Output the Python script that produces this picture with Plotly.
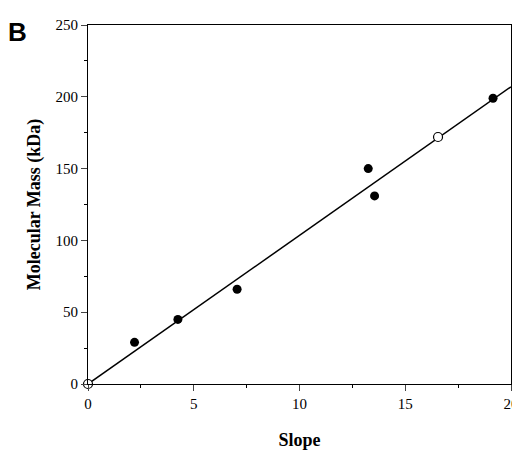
import plotly.graph_objects as go

filled_x = [2.2, 4.25, 7.05, 13.25, 13.55, 19.15]
filled_y = [29, 45, 66, 150, 131, 199]
open_x = [0, 16.55]
open_y = [0, 172]
line_x = [0, 20]
line_y = [0, 207]

fig = go.Figure()
fig.add_trace(go.Scatter(x=line_x, y=line_y, mode="lines", line=dict(color="black", width=1.5), cliponaxis=False))
fig.add_trace(go.Scatter(x=filled_x, y=filled_y, mode="markers", marker=dict(color="black", size=9), cliponaxis=False))
fig.add_trace(go.Scatter(x=open_x, y=open_y, mode="markers",
                         marker=dict(color="white", size=9, line=dict(color="black", width=1.2)), cliponaxis=False))

font = dict(family="Liberation Serif", color="black", size=15)
fig.update_layout(
    width=520, height=450, showlegend=False, plot_bgcolor="white", paper_bgcolor="white",
    margin=dict(l=80, r=17, t=9, b=74), font=font,
    xaxis=dict(range=[0, 20], tickvals=[0, 5, 10, 15, 20], ticks="outside", ticklen=6, tickwidth=1,
               showline=True, linecolor="black", linewidth=1, mirror=True, showgrid=False, zeroline=False,
               minor=dict(tickvals=[2.5, 7.5, 12.5, 17.5], ticks="outside", ticklen=3, tickcolor="black"),
               title=dict(text="<b>Slope</b>", font=dict(family="Liberation Serif", size=18), standoff=22)),
    yaxis=dict(range=[0, 250], tickvals=[0, 50, 100, 150, 200, 250], ticks="outside", ticklen=6, tickwidth=1,
               showline=True, linecolor="black", linewidth=1, mirror=True, showgrid=False, zeroline=False,
               minor=dict(tickvals=[25, 75, 125, 175, 225], ticks="outside", ticklen=3, tickcolor="black"),
               title=dict(text="<b>Molecular Mass (kDa)</b>", font=dict(family="Liberation Serif", size=18), standoff=10)),
    annotations=[dict(text="<b>B</b>", x=0, y=1, xref="paper", yref="paper", xshift=-82, yshift=10,
                      xanchor="left", yanchor="top", showarrow=False,
                      font=dict(family="Liberation Sans", size=26, color="black"))],
)
fig.write_html("out.html")
